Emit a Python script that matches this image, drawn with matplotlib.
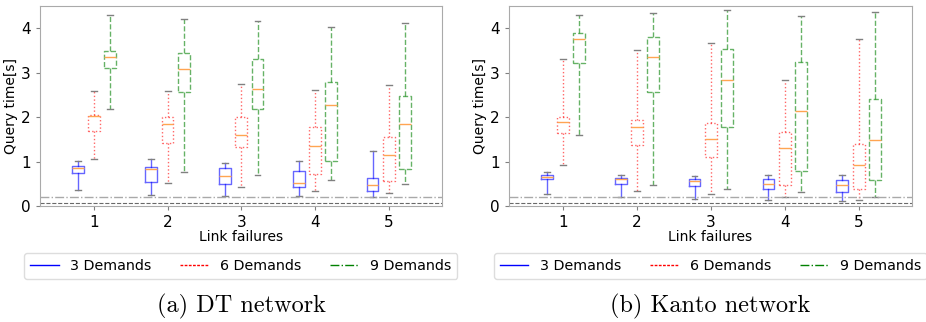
import matplotlib
matplotlib.use("Agg")
import matplotlib.pyplot as plt
from matplotlib.lines import Line2D

failures = [1, 2, 3, 4, 5]
demands = ["3 Demands", "6 Demands", "9 Demands"]

# DT network: whisker low, Q1, median, Q3, whisker high for each link-failure count
dt_3_low = [0.37, 0.26, 0.23, 0.22, 0.20]
dt_3_q1 = [0.75, 0.54, 0.50, 0.42, 0.35]
dt_3_med = [0.86, 0.83, 0.68, 0.53, 0.47]
dt_3_q3 = [0.90, 0.87, 0.85, 0.80, 0.64]
dt_3_high = [1.02, 1.07, 0.98, 1.02, 1.25]

dt_6_low = [1.06, 0.52, 0.44, 0.33, 0.30]
dt_6_q1 = [1.68, 1.43, 1.34, 0.73, 0.56]
dt_6_med = [2.03, 1.85, 1.59, 1.35, 1.16]
dt_6_q3 = [2.06, 2.00, 2.00, 1.77, 1.55]
dt_6_high = [2.60, 2.60, 2.75, 2.61, 2.72]

dt_9_low = [2.19, 0.76, 0.71, 0.59, 0.50]
dt_9_q1 = [3.10, 2.57, 2.18, 1.01, 0.83]
dt_9_med = [3.35, 3.08, 2.63, 2.27, 1.85]
dt_9_q3 = [3.49, 3.44, 3.30, 2.79, 2.48]
dt_9_high = [4.29, 4.22, 4.16, 4.04, 4.11]

# Kanto network
kt_3_low = [0.27, 0.20, 0.17, 0.14, 0.11]
kt_3_q1 = [0.62, 0.50, 0.46, 0.38, 0.32]
kt_3_med = [0.65, 0.62, 0.56, 0.50, 0.47]
kt_3_q3 = [0.70, 0.63, 0.62, 0.60, 0.59]
kt_3_high = [0.76, 0.71, 0.68, 0.69, 0.71]

kt_6_low = [0.92, 0.35, 0.28, 0.21, 0.14]
kt_6_q1 = [1.64, 1.37, 1.10, 0.48, 0.39]
kt_6_med = [1.89, 1.79, 1.50, 1.30, 0.92]
kt_6_q3 = [2.00, 1.93, 1.87, 1.66, 1.40]
kt_6_high = [3.30, 3.52, 3.66, 2.84, 3.77]

kt_9_low = [1.61, 0.47, 0.38, 0.31, 0.21]
kt_9_q1 = [3.23, 2.56, 1.79, 0.80, 0.58]
kt_9_med = [3.77, 3.35, 2.83, 2.15, 1.48]
kt_9_q3 = [3.90, 3.81, 3.53, 3.25, 2.40]
kt_9_high = [4.29, 4.34, 4.42, 4.28, 4.37]

ref_line_a = 0.2
ref_line_b = 0.06

colors = ["blue", "red", "green"]
box_styles = ["-", ":", "--"]
legend_styles = ["-", (0, (2, 1)), "-."]
offsets = [-0.22, 0.0, 0.22]


def make_stats(low, q1, med, q3, high):
    return [dict(whislo=a, q1=b, med=c, q3=d, whishi=e, fliers=[])
            for a, b, c, d, e in zip(low, q1, med, q3, high)]


dt_groups = [
    make_stats(dt_3_low, dt_3_q1, dt_3_med, dt_3_q3, dt_3_high),
    make_stats(dt_6_low, dt_6_q1, dt_6_med, dt_6_q3, dt_6_high),
    make_stats(dt_9_low, dt_9_q1, dt_9_med, dt_9_q3, dt_9_high),
]
kt_groups = [
    make_stats(kt_3_low, kt_3_q1, kt_3_med, kt_3_q3, kt_3_high),
    make_stats(kt_6_low, kt_6_q1, kt_6_med, kt_6_q3, kt_6_high),
    make_stats(kt_9_low, kt_9_q1, kt_9_med, kt_9_q3, kt_9_high),
]


def draw(ax, groups, caption):
    for stats, c, ls, off in zip(groups, colors, box_styles, offsets):
        pos = [f + off for f in failures]
        line = dict(color=c, linestyle=ls, linewidth=1.0, alpha=0.6)
        ax.bxp(stats, positions=pos, widths=0.16, showfliers=False,
               boxprops=line, whiskerprops=line,
               capprops=dict(color="gray", linewidth=1.0),
               medianprops=dict(color="#ffa552", linewidth=1.0))
    ax.axhline(ref_line_a, color="darkgray", linestyle="-.", linewidth=1.0)
    ax.axhline(ref_line_b, color="dimgray", linestyle="--", linewidth=0.8)
    ax.set_xlim(0.27, 5.72)
    ax.set_ylim(0, 4.5)
    ax.set_xticks(failures)
    ax.set_xticklabels([str(f) for f in failures])
    ax.set_yticks([0, 1, 2, 3, 4])
    ax.tick_params(labelsize=11, colors="gray", labelcolor="black", length=3)
    ax.set_xlabel("Link failures", fontsize=10, labelpad=0)
    ax.set_ylabel("Query time[s]", fontsize=10, labelpad=2)
    for s in ax.spines.values():
        s.set_color("#aaaaaa")
    handles = [Line2D([], [], color=c, linestyle=ls, linewidth=1.0)
               for c, ls in zip(colors, legend_styles)]
    ax.legend(handles, demands, ncol=3, loc="upper center",
              bbox_to_anchor=(0.5, -0.2), fontsize=10.3, framealpha=1,
              edgecolor="#dddddd")
    ax.text(0.5, -0.5, caption, transform=ax.transAxes, ha="center",
            va="center", fontsize=17.5, family="cmr10")


fig = plt.figure(figsize=(9.26, 3.22), dpi=100)
ax1 = fig.add_axes([0.0432, 0.36, 0.434, 0.621])
ax2 = fig.add_axes([0.5497, 0.36, 0.435, 0.621])
draw(ax1, dt_groups, "(a) DT network")
draw(ax2, kt_groups, "(b) Kanto network")

fig.savefig("out.png", dpi=100)
